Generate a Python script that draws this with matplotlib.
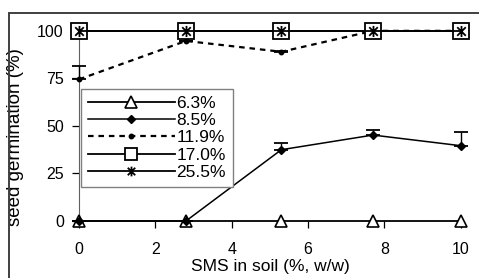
import numpy as np
import matplotlib
matplotlib.use("Agg")
import matplotlib.pyplot as plt
from matplotlib.path import Path
from matplotlib.patches import Rectangle
from matplotlib.lines import Line2D

plt.rcParams['font.family'] = ['Liberation Sans', 'DejaVu Sans']

# SMS content in soil (%, w/w)
sms = [0, 2.8, 5.3, 7.7, 10]

# seed germination (%) for each soil moisture level
g_63 = [0, 0, 0, 0, 0]
g_85 = [0, 0, 37.5, 45.2, 39.6]
g_85_err = [0, 0, 3.5, 2.7, 7.2]
g_119 = [74.5, 94.7, 89.0, 100, 100]
g_119_err = [7.2, 0, 0.4, 0, 0]
g_170 = [100, 100, 100, 100, 100]
g_255 = [100, 100, 100, 100, 100]

labels = ['6.3%', '8.5%', '11.9%', '17.0%', '25.5%']
xticks = [0, 2, 4, 6, 8, 10]
yticks = [0, 25, 50, 75, 100]

# asterisk marker: X plus vertical bar
ast = Path([(-1, -1), (1, 1), (-1, 1), (1, -1), (0, -1.3), (0, 1.3)],
           [Path.MOVETO, Path.LINETO] * 3)

dash = (0, (2.5, 2.2))
styles = [
    dict(color='black', lw=1.3, marker='^', ms=9, mfc='white', mec='black', mew=1.2),
    dict(color='black', lw=1.1, marker='D', ms=4.5),
    dict(color='black', lw=1.6, ls=dash, marker='o', ms=3.2),
    dict(color='black', lw=1.3, marker='s', ms=12, mfc='white', mec='black', mew=1.3),
    dict(color='black', lw=1.3, marker=ast, ms=8, mec='black', mew=1.3),
]

fig = plt.figure(figsize=(4.79, 2.78), dpi=100)
ax = fig.add_axes([0.165, 0.205, 0.797, 0.684])

ax.plot(sms, g_63, clip_on=False, zorder=3, **styles[0])
ax.errorbar(sms, g_85, yerr=[np.zeros(5), g_85_err], capsize=5, elinewidth=1,
            capthick=1.3, clip_on=False, zorder=3, **styles[1])
ax.errorbar(sms, g_119, yerr=[np.zeros(5), g_119_err], capsize=5, elinewidth=1,
            capthick=1.3, clip_on=False, zorder=3, **styles[2])
ax.plot(sms, g_170, clip_on=False, zorder=4, **styles[3])
ax.plot(sms, g_255, clip_on=False, zorder=5, **styles[4])

ax.set_xlim(0, 10)
ax.set_ylim(0, 100)
ax.set_xticks(xticks)
ax.set_yticks(yticks)
ax.tick_params(axis='both', direction='out', length=5, width=0.9, labelsize=11.5)
ax.tick_params(axis='x', pad=10)
ax.tick_params(axis='y', pad=6)
ax.spines['top'].set_visible(False)
ax.spines['right'].set_visible(False)
ax.spines['left'].set_color('#606060')
ax.spines['bottom'].set_visible(False)

ax.set_xlabel('SMS in soil (%, w/w)', fontsize=12.5)
ax.set_ylabel('seed germination (%)', fontsize=13.5)
ax.xaxis.set_label_coords(0.5, -0.2)
ax.yaxis.set_label_coords(-0.143, 0.44)

# legend markers are drawn a bit smaller than in the plot
leg_styles = [dict(st) for st in styles]
leg_styles[0]['ms'] = 8.5
leg_styles[3]['ms'] = 8.5
leg_styles[4]['ms'] = 7
handles = [Line2D([], [], **st) for st in leg_styles]
leg = ax.legend(handles, labels, loc='upper left', bbox_to_anchor=(0.005, 0.695),
                borderaxespad=0, fontsize=12.5, handlelength=5.0, handletextpad=0.1,
                labelspacing=0.12, borderpad=0.4, fancybox=False, framealpha=1,
                edgecolor='#808080')
leg.get_frame().set_linewidth(1)

# outer frame around the figure
fig.add_artist(Rectangle((0.019, -0.1), 1.2, 1.053, transform=fig.transFigure,
                         fill=False, edgecolor='#404040', lw=1.4))

fig.savefig('out.png', dpi=100)
